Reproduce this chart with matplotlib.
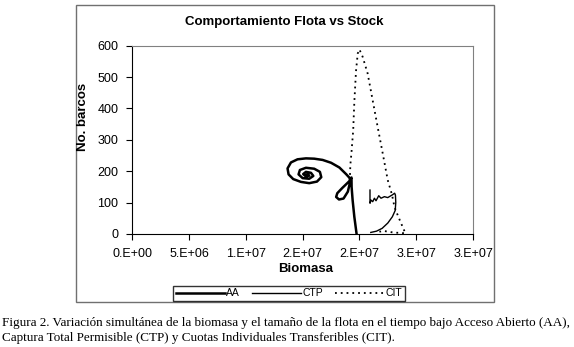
import matplotlib
matplotlib.use("Agg")
import matplotlib.pyplot as plt
from matplotlib.patches import Rectangle
import numpy as np

# Data (biomasa in millions, no. barcos)
aa_biomasa = [19.75, 19.55, 19.40, 19.31, 19.30, 19.10, 18.50, 18.05, 17.95, 18.20, 18.60, 18.98, 19.22,
              19.10, 18.82, 18.23, 17.50, 16.76, 16.02, 15.29, 14.55, 13.97, 13.67, 13.76, 14.17,
              14.85, 15.58, 16.26, 16.64, 16.52, 16.02, 15.29, 14.76, 14.64, 15.00, 15.58, 15.94,
              15.73, 15.29, 15.05, 15.29, 15.58, 15.46, 15.30]
aa_barcos = [0, 55, 108, 150, 180, 168, 147, 130, 118, 110, 113, 135, 172,
             180, 191, 212, 227, 236, 240, 241, 238, 228, 209, 190, 175,
             166, 162, 167, 181, 198, 208, 211, 204, 190, 178, 176, 185,
             195, 198, 191, 183, 186, 191, 188]

ctp_biomasa = [20.93, 20.93, 21.02, 21.17, 21.32, 21.46, 21.70, 21.90, 22.20, 22.49, 22.87, 23.10,
               23.17, 23.20, 23.15, 22.90, 22.50, 22.00, 21.50, 21.00]
ctp_barcos = [140, 98, 108, 103, 114, 106, 122, 114, 119, 116, 124, 130,
              124, 100, 75, 55, 35, 18, 9, 5]

cit_biomasa = [19.15, 19.20, 19.30, 19.45, 19.55, 19.70, 19.85, 20.00, 20.28, 20.72, 21.16, 21.60,
               22.05, 22.49, 22.87, 23.08, 23.37, 23.67, 24.05, 23.50, 23.08, 22.64, 22.05, 21.76]
cit_barcos = [170, 220, 260, 330, 420, 520, 575, 588, 565, 512, 427, 342,
              257, 172, 125, 87, 60, 34, 2, 4, 4, 7, 10, 7]

x_ticks = [0, 5e6, 1e7, 1.5e7, 2e7, 2.5e7, 3e7]
x_tick_labels = ["0.E+00", "5.E+06", "1.E+07", "2.E+07", "2.E+07", "3.E+07", "3.E+07"]
y_ticks = [0, 100, 200, 300, 400, 500, 600]

W, H = 574, 347
fig = plt.figure(figsize=(W / 100, H / 100), dpi=100)
plt.rcParams["font.family"] = "Liberation Sans"

# Outer chart frame
fig.add_artist(Rectangle((76 / W, 1 - 302 / H), (494 - 76) / W, (302 - 5) / H,
                         transform=fig.transFigure, fill=False, edgecolor="#707070", lw=1))

ax = fig.add_axes([132.3 / W, 1 - 234 / H, (473 - 132.3) / W, (234 - 45.7) / H])
to_abs = lambda v: np.array(v) * 1e6
ax.plot(to_abs(aa_biomasa), aa_barcos, color="black", lw=1.8, solid_joinstyle="round", label="AA")
ax.plot(to_abs(ctp_biomasa), ctp_barcos, color="black", lw=1.0, label="CTP")
ax.plot(to_abs(cit_biomasa), cit_barcos, color="black", lw=1.3, linestyle=(0, (1, 2.2)), label="CIT")

ax.set_xlim(0, 3e7)
ax.set_ylim(0, 600)
ax.set_xticks(x_ticks)
ax.set_xticklabels(x_tick_labels)
ax.set_yticks(y_ticks)
ax.tick_params(labelsize=9, length=4, width=0.8, direction="out", pad=6)
for s in ["top", "right"]:
    ax.spines[s].set_color("#808080")
for s in ["left", "bottom"]:
    ax.spines[s].set_color("black")

fig.text(284 / W, 1 - 22 / H, "Comportamiento Flota vs Stock", ha="center", va="center",
         fontsize=9.5, fontweight="bold")
fig.text(306 / W, 1 - 269 / H, "Biomasa", ha="center", va="center", fontsize=9.5, fontweight="bold")
fig.text(83 / W, 1 - 117 / H, "No. barcos", ha="center", va="center", rotation=90,
         fontsize=9.5, fontweight="bold")

leg = fig.legend(loc="center", bbox_to_anchor=(289 / W, 1 - 293.5 / H), ncol=3, fontsize=7.5,
                 frameon=True, fancybox=False, handlelength=4.7, handletextpad=0.1,
                 columnspacing=1.2, borderpad=0.25)
leg.get_frame().set_edgecolor("black")
leg.get_frame().set_linewidth(1)

caption = ("Figura 2. Variación simultánea de la biomasa y el tamaño de la flota en el tiempo bajo Acceso Abierto (AA),\n"
           "Captura Total Permisible (CTP) y Cuotas Individuales Transferibles (CIT).")
fig.text(2 / W, 1 - 317 / H, caption, ha="left", va="top", fontsize=9.45,
         family="Liberation Serif", linespacing=1.3)

fig.savefig("out.png", dpi=100)
